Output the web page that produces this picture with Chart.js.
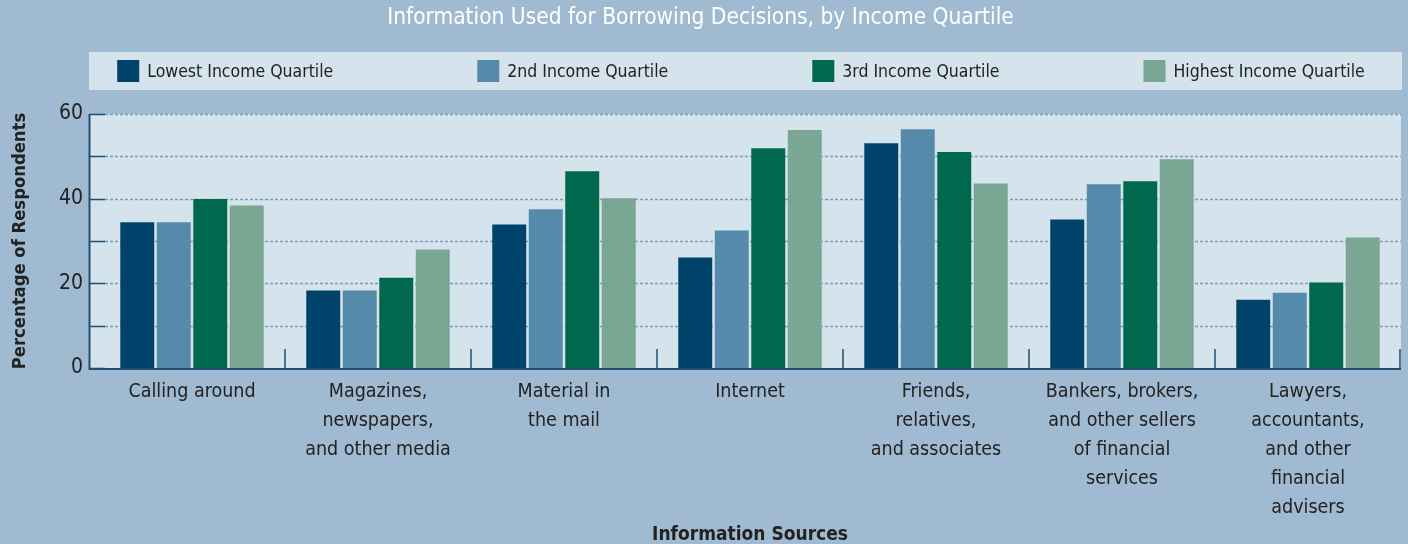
<!DOCTYPE html>
<html>
<head>
<meta charset="utf-8">
<script src="https://cdn.jsdelivr.net/npm/chart.js@4.4.1/dist/chart.umd.min.js"></script>
<style>
  html, body { margin: 0; padding: 0; background: #a0bbd1; }
  #wrap { width: 1408px; height: 544px; }
</style>
</head>
<body>
<div id="wrap"><canvas id="chart" width="1408" height="544"></canvas></div>
<script>
// 数据
const categories = [
    ['Calling around'],
    ['Magazines,', 'newspapers,', 'and other media'],
    ['Material in', 'the mail'],
    ['Internet'],
    ['Friends,', 'relatives,', 'and associates'],
    ['Bankers, brokers,', 'and other sellers', 'of financial', 'services'],
    ['Lawyers,', 'accountants,', 'and other', 'financial', 'advisers']
];
const seriesNames = ['Lowest Income Quartile', '2nd Income Quartile', '3rd Income Quartile', 'Highest Income Quartile'];
const lowest  = [34.4, 18.3, 33.9, 26.1, 53.1, 35.1, 16.1];
const second  = [34.4, 18.3, 37.5, 32.5, 56.4, 43.4, 17.8];
const third   = [39.9, 21.3, 46.5, 51.9, 51.0, 44.1, 20.2];
const highest = [38.4, 28.0, 40.1, 56.2, 43.6, 49.3, 30.8];
const yLabelled = [0, 20, 40, 60];

const colors = ['#00436a', '#568aab', '#00684c', '#7aa694'];
const FONT = "'Liberation Sans Narrow', 'DejaVu Sans Condensed', sans-serif";
const pageBg = '#a0bbd1';
const plotBg = '#d5e3ec';
const axisColor = '#1f4e72';

// 背景、网格、坐标轴和图例
const decor = {
    id: 'decor',
    beforeDraw(chart) {
        const ctx = chart.ctx, a = chart.chartArea;
        ctx.save();
        ctx.fillStyle = pageBg;
        ctx.fillRect(0, 0, chart.width, chart.height);
        ctx.fillStyle = plotBg;
        ctx.fillRect(89, 52, a.right - 89 + 1, 38);
        ctx.fillRect(89, a.top, a.right - 89, a.bottom - a.top);
        ctx.restore();
    },
    beforeDatasetsDraw(chart) {
        const ctx = chart.ctx, a = chart.chartArea, y = chart.scales.y;
        ctx.save();
        ctx.strokeStyle = '#7b9cb6';
        ctx.lineWidth = 1.5;
        ctx.setLineDash([3, 2]);
        y.ticks.forEach(t => {
            if (t.value === 0) return;
            const py = Math.round(y.getPixelForValue(t.value)) + 0.5;
            ctx.beginPath();
            ctx.moveTo(105, py);
            ctx.lineTo(a.right, py);
            ctx.stroke();
        });
        ctx.restore();
    },
    afterDatasetsDraw(chart) {
        const ctx = chart.ctx, a = chart.chartArea, y = chart.scales.y, x = chart.scales.x;
        ctx.save();
        ctx.strokeStyle = axisColor;
        ctx.lineWidth = 1.5;
        // y 轴刻度
        y.ticks.forEach(t => {
            const py = Math.round(y.getPixelForValue(t.value)) + 0.5;
            ctx.beginPath();
            ctx.moveTo(89, py);
            ctx.lineTo(105, py);
            ctx.stroke();
        });
        ctx.lineWidth = 2;
        ctx.beginPath();
        ctx.moveTo(89.5, a.top);
        ctx.lineTo(89.5, a.bottom + 1);
        ctx.lineTo(a.right, a.bottom + 1);
        ctx.stroke();
        // 分类分隔线
        const w = (x.right - x.left) / categories.length;
        ctx.lineWidth = 1.5;
        for (let i = 1; i <= categories.length; i++) {
            const px = Math.min(x.left + w * i, a.right - 1);
            ctx.beginPath();
            ctx.moveTo(px, a.bottom - 19);
            ctx.lineTo(px, a.bottom);
            ctx.stroke();
        }
        // 图例
        ctx.font = '17.5px ' + FONT;
        ctx.textBaseline = 'middle';
        const gap = 144, box = 22, sp = 8;
        const widths = chart.data.datasets.map(d => box + sp + ctx.measureText(d.label).width);
        const total = widths.reduce((s, v) => s + v, 0) + gap * (widths.length - 1);
        let lx = (89 + a.right) / 2 - total / 2 - 4;
        chart.data.datasets.forEach((d, i) => {
            ctx.fillStyle = d.backgroundColor;
            ctx.fillRect(lx, 60, box, box);
            ctx.fillStyle = '#222';
            ctx.fillText(d.label, lx + box + sp, 72);
            lx += widths[i] + gap;
        });
        ctx.restore();
    }
};

const ctx = document.getElementById('chart').getContext('2d');
new Chart(ctx, {
    type: 'bar',
    data: {
        labels: categories,
        datasets: [lowest, second, third, highest].map((vals, i) => ({
            label: seriesNames[i],
            data: vals,
            backgroundColor: colors[i],
            borderWidth: 0,
            categoryPercentage: 0.785,
            barPercentage: 0.93
        }))
    },
    options: {
        responsive: false,
        animation: false,
        layout: { padding: { left: 0, right: 7, top: 0, bottom: 0 } },
        plugins: {
            legend: { display: false },
            tooltip: { enabled: false },
            title: {
                display: true,
                text: 'Information Used for Borrowing Decisions, by Income Quartile',
                color: '#ffffff',
                font: { family: FONT, size: 22.5, weight: 'normal' },
                padding: { top: 5, bottom: 82 }
            }
        },
        scales: {
            x: {
                grid: { display: false, drawTicks: false },
                border: { display: false },
                ticks: {
                    color: '#222',
                    font: { family: FONT, size: 19.5, lineHeight: 1.48 },
                    padding: 10,
                    maxRotation: 0,
                    autoSkip: false
                },
                title: {
                    display: true,
                    text: 'Information Sources',
                    color: '#222',
                    font: { family: FONT, size: 19, weight: 'bold' },
                    padding: { top: 0, bottom: -2 }
                },
                afterFit: s => { s.height = 176; }
            },
            y: {
                min: 0,
                max: 60,
                grid: { display: false, drawTicks: false },
                border: { display: false },
                ticks: {
                    stepSize: 10,
                    color: '#222',
                    font: { family: FONT, size: 21 },
                    padding: 16,
                    callback: v => yLabelled.includes(v) ? v : ''
                },
                title: {
                    display: true,
                    text: 'Percentage of Respondents',
                    color: '#222',
                    font: { family: FONT, size: 18.3, weight: 'bold' },
                    padding: { top: 9, bottom: 0 }
                },
                afterFit: s => { s.width = 99; }
            }
        }
    },
    plugins: [decor]
});
</script>
</body>
</html>
